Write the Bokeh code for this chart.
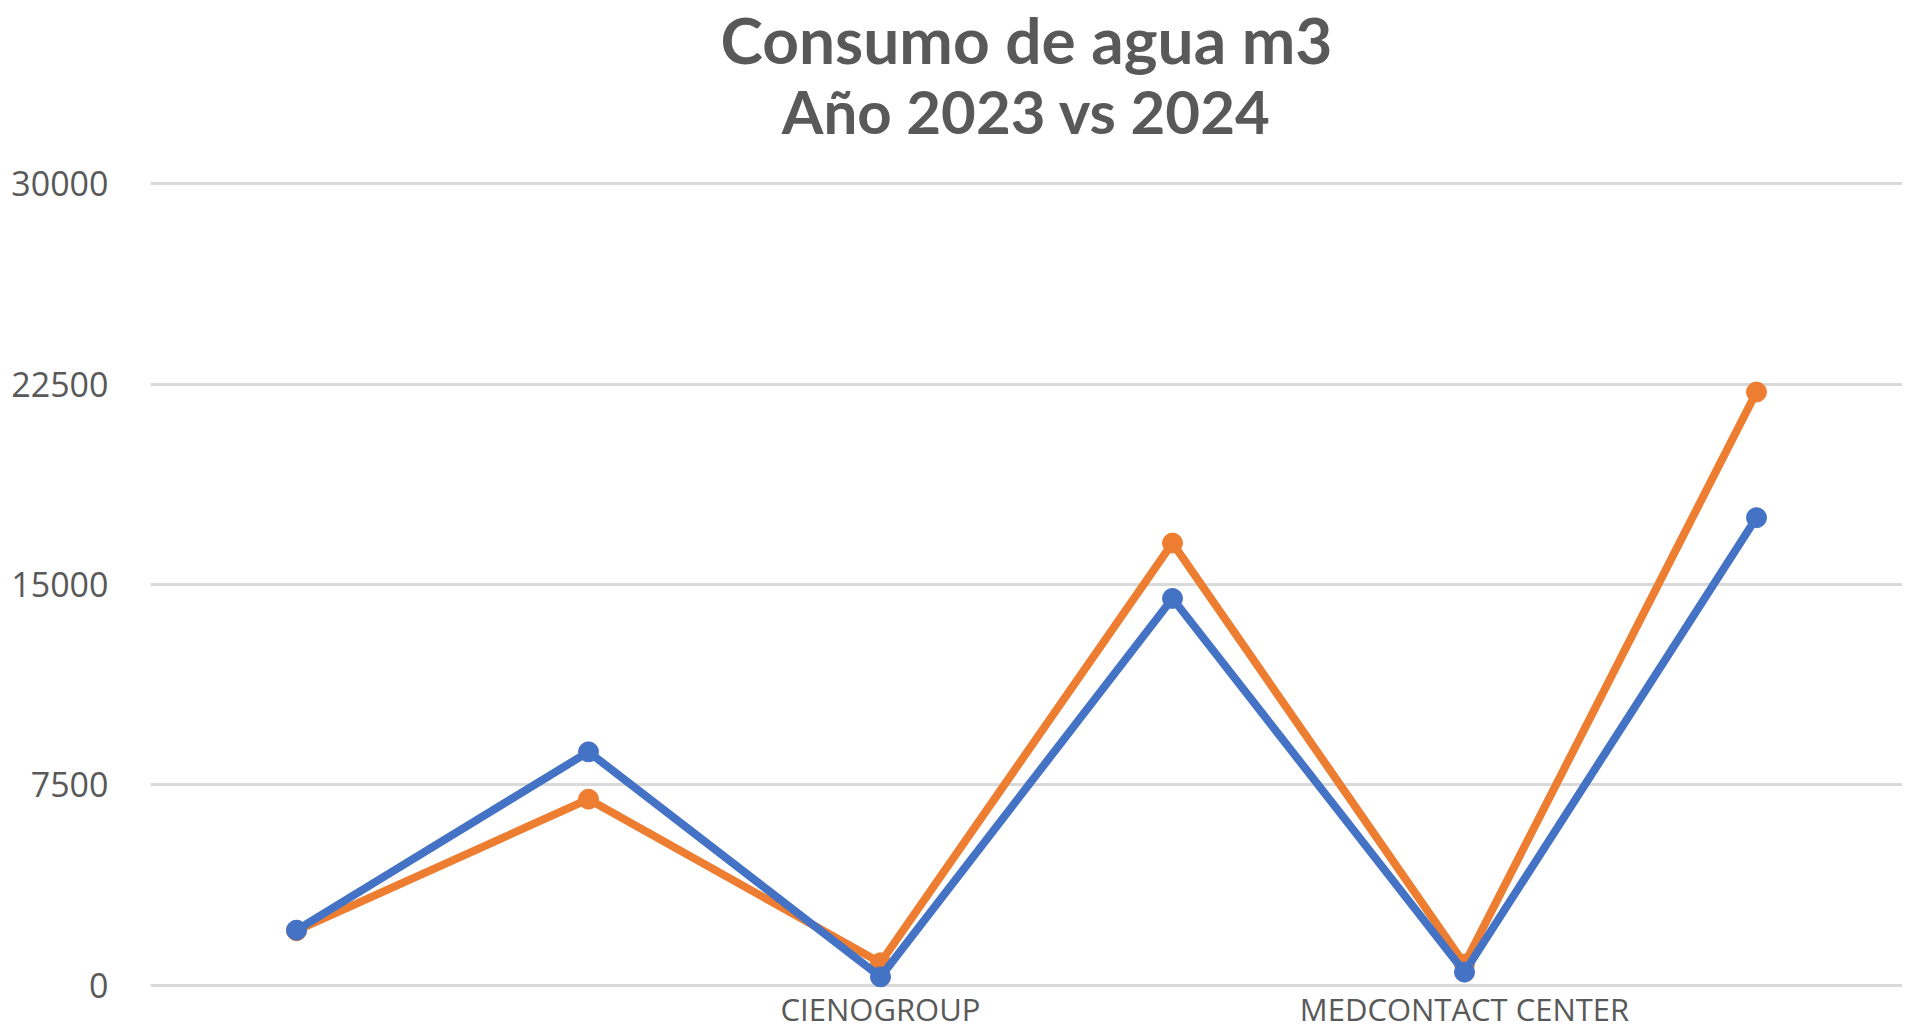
from bokeh.plotting import figure
from bokeh.models import Range1d, FixedTicker, Title
from bokeh.embed import file_html
from bokeh.resources import INLINE

# ---- data ----
categories = ["", "", "CIENOGROUP", "", "MEDCONTACT CENTER", ""]
years = ["2023", "2024"]
consumo_2023 = [2070, 8740, 320, 14480, 500, 17500]
consumo_2024 = [2050, 6970, 850, 16550, 800, 22200]
y_ticks = [0, 7500, 15000, 22500, 30000]
title_lines = ["Consumo de agua m3", "Año 2023 vs 2024"]

x = list(range(1, len(categories) + 1))
label_map = {i + 1: c for i, c in enumerate(categories) if c}

BLUE = "#4472C4"
ORANGE = "#ED7D31"
GRAY_TXT = "#595959"

p = figure(width=1902, height=1033, output_backend="svg", toolbar_location=None,
           x_range=Range1d(0.5, len(categories) + 0.5),
           y_range=Range1d(-75, 30150),
           min_border_left=150, min_border_right=0, min_border_top=179, min_border_bottom=46)
p.outline_line_color = None
p.background_fill_color = "white"
p.border_fill_color = "white"

# two title lines; the one added first sits closest to the plot
t2 = Title(text=title_lines[1], align="center", text_font="Lato", text_font_style="bold",
           text_font_size="60px", text_color=GRAY_TXT, standoff=66)
t1 = Title(text=title_lines[0], align="center", text_font="Lato", text_font_style="bold",
           text_font_size="64px", text_color=GRAY_TXT, standoff=-76)
p.add_layout(t2, "above")
p.add_layout(t1, "above")

# series: orange first so blue is drawn on top
for vals, col, name in [(consumo_2024, ORANGE, years[1]), (consumo_2023, BLUE, years[0])]:
    p.line(x, vals, line_color=col, line_width=8, line_join="round")
    p.scatter(x, vals, size=20, fill_color=col, line_color=col)

# axes
p.yaxis.ticker = FixedTicker(ticks=y_ticks)
p.yaxis.axis_line_color = None
p.yaxis.major_tick_line_color = None
p.yaxis.minor_tick_line_color = None
p.yaxis.major_tick_out = 0
p.yaxis.major_tick_in = 0
p.yaxis.major_label_standoff = 42
p.yaxis.major_label_text_font = "Open Sans"
p.yaxis.major_label_text_font_size = "34px"
p.yaxis.major_label_text_color = GRAY_TXT
p.yaxis.formatter.use_scientific = False

p.xaxis.ticker = FixedTicker(ticks=list(label_map.keys()))
p.xaxis.major_label_overrides = {k: v for k, v in label_map.items()}
p.xaxis.axis_line_color = None
p.xaxis.major_tick_line_color = None
p.xaxis.minor_tick_line_color = None
p.xaxis.major_tick_out = 0
p.xaxis.major_tick_in = 0
p.xaxis.major_label_standoff = 0
p.xaxis.major_label_text_font = "Open Sans"
p.xaxis.major_label_text_font_size = "31px"
p.xaxis.major_label_text_color = GRAY_TXT

p.xgrid.grid_line_color = None
p.ygrid.ticker = FixedTicker(ticks=y_ticks)
p.ygrid.grid_line_color = "#D9D9D9"
p.ygrid.grid_line_width = 3

open("out.html", "w").write(file_html(p, INLINE))
